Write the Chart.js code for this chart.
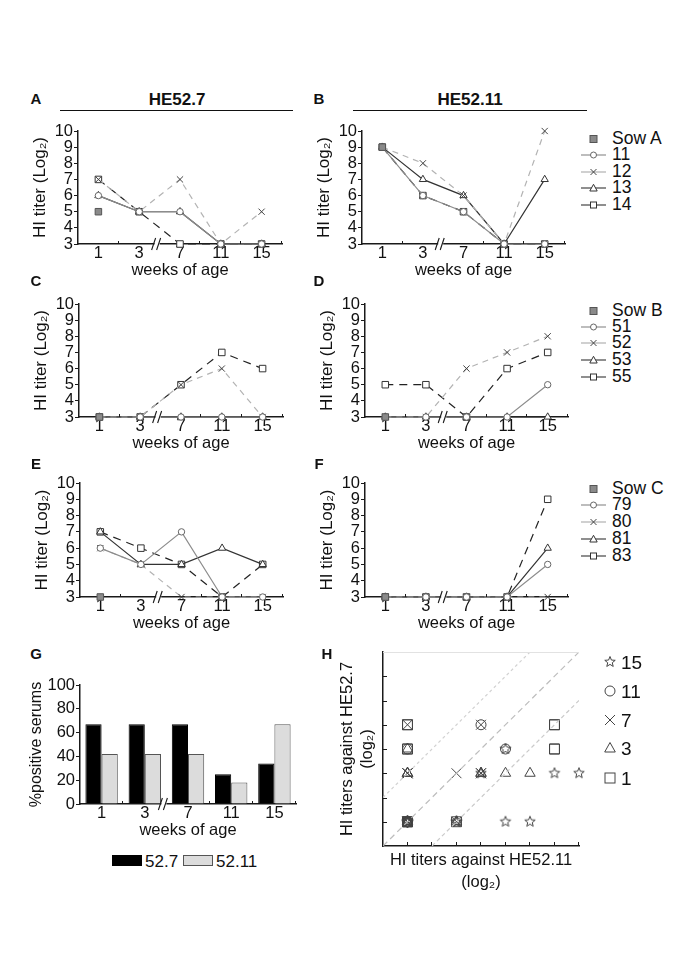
<!DOCTYPE html>
<html>
<head>
<meta charset="utf-8">
<script src="https://cdn.jsdelivr.net/npm/chart.js@4.4.1/dist/chart.umd.min.js"></script>
<style>
body { margin: 0; background: #fff; width: 685px; height: 969px; position: relative; overflow: hidden;
       font-family: "Liberation Sans", Arial, Helvetica, sans-serif; color: #111; }
canvas { position: absolute; }
.t { position: absolute; white-space: nowrap; line-height: 1; }
svg { position: absolute; overflow: visible; }
</style>
</head>
<body>
<script>
// weeks of age (x categories)
const weeks = ['1', '3', '7', '11', '15'];

// litter A: sow + piglets 11, 12, 13, 14 (HI titers, log2)
const sowA_52_7   = [5, null, null, null, null];
const pig11_52_7  = [6, 5, 5, 3, 3];
const pig12_52_7  = [7, 5, 7, 3, 5];
const pig13_52_7  = [6, 5, 5, 3, 3];
const pig14_52_7  = [7, 5, 3, 3, 3];
const sowA_52_11  = [9, null, null, null, null];
const pig11_52_11 = [9, 6, 5, 3, 3];
const pig12_52_11 = [9, 8, 6, 3, 10];
const pig13_52_11 = [9, 7, 6, 3, 7];
const pig14_52_11 = [9, 6, 5, 3, 3];

// litter B: sow + piglets 51, 52, 53, 55
const sowB_52_7   = [3, null, null, null, null];
const pig51_52_7  = [3, 3, 3, 3, 3];
const pig52_52_7  = [3, 3, 5, 6, 3];
const pig53_52_7  = [3, 3, 3, 3, 3];
const pig55_52_7  = [3, 3, 5, 7, 6];
const sowB_52_11  = [3, null, null, null, null];
const pig51_52_11 = [3, 3, 3, 3, 5];
const pig52_52_11 = [3, 3, 6, 7, 8];
const pig53_52_11 = [3, 3, 3, 3, 3];
const pig55_52_11 = [5, 5, 3, 6, 7];

// litter C: sow + piglets 79, 80, 81, 83
const sowC_52_7   = [3, null, null, null, null];
const pig79_52_7  = [6, 5, 7, 3, 3];
const pig80_52_7  = [6, 5, 3, 3, 3];
const pig81_52_7  = [7, 5, 5, 6, 5];
const pig83_52_7  = [7, 6, 5, 3, 5];
const sowC_52_11  = [3, null, null, null, null];
const pig79_52_11 = [3, 3, 3, 3, 5];
const pig80_52_11 = [3, 3, 3, 3, 3];
const pig81_52_11 = [3, 3, 3, 3, 6];
const pig83_52_11 = [3, 3, 3, 3, 9];

// panel G: % positive serums
const pos52_7  = [67, 67, 67, 25, 34];
const pos52_11 = [42, 42, 42, 18, 67];

// panel H: reference diagonals
const diagUpper = [{x: 2, y: 4}, {x: 8, y: 10}];
const diagMid   = [{x: 2, y: 2}, {x: 10, y: 10}];
const diagLower = [{x: 4, y: 2}, {x: 10, y: 8}];
const hWeeks = ['15', '11', '7', '3', '1'];

Chart.defaults.font.family = '"Liberation Sans", Arial, Helvetica, sans-serif';
Chart.defaults.color = '#111';
Chart.defaults.animation = false;

const INK = '#1a1a1a';

// marker / line look for sow and the four piglets
const roleStyles = [
  {showLine: false, pointStyle: 'rect', pointRadius: 4.6, pointBackgroundColor: '#8a8a8a', pointBorderColor: '#555', borderColor: '#555'},
  {borderColor: '#8c8c8c', borderWidth: 1.2, pointStyle: 'circle', pointRadius: 3.2, pointBackgroundColor: '#fff', pointBorderColor: '#666'},
  {borderColor: '#b3b3b3', borderWidth: 1.2, borderDash: [6, 5], pointStyle: 'crossRot', pointRadius: 4.4, pointBorderColor: '#444'},
  {borderColor: '#333', borderWidth: 1.2, pointStyle: 'triangle', pointRadius: 4.2, pointBackgroundColor: '#fff', pointBorderColor: '#333'},
  {borderColor: '#222', borderWidth: 1.2, borderDash: [8, 6], pointStyle: 'rect', pointRadius: 4.6, pointBackgroundColor: '#fff', pointBorderColor: '#333'}
];

function makeCanvas(box) {
  const c = document.createElement('canvas');
  c.width = box.w; c.height = box.h;
  c.style.left = box.x + 'px'; c.style.top = box.y + 'px';
  c.style.width = box.w + 'px'; c.style.height = box.h + 'px';
  document.body.appendChild(c);
  return c;
}

function seg(ctx, x1, y1, x2, y2) {
  ctx.beginPath(); ctx.moveTo(x1, y1); ctx.lineTo(x2, y2); ctx.stroke();
}

// small inward ticks between categories + the "//" axis break
const marks = {
  id: 'marks',
  afterDraw(chart, args, opts) {
    const ctx = chart.ctx, a = chart.chartArea;
    const xs = chart.scales.x, ys = chart.scales.y;
    ctx.save();
    ctx.strokeStyle = INK; ctx.lineWidth = 1;
    if (opts.cat) {
      for (let i = 1; i <= weeks.length; i++) {
        if (i === 2) continue;
        const px = Math.round(xs.getPixelForValue(i - 0.5)) - 0.5;
        seg(ctx, px, a.bottom, px, a.bottom - 3);
      }
      const bx = xs.getPixelForValue(1.5) - 2;
      const by = a.bottom;
      ctx.fillStyle = '#fff';
      ctx.fillRect(bx - 3, by - 2, 5, 4);
      ctx.lineWidth = 1.1;
      seg(ctx, bx - 6, by + 6, bx - 2, by - 6);
      seg(ctx, bx - 1, by + 6, bx + 3, by - 6);
    }
    if (opts.grid) {
      ctx.strokeStyle = '#e2e2e2';
      seg(ctx, a.left, a.top + 0.5, a.right, a.top + 0.5);
      ctx.strokeStyle = INK;
      xs.ticks.forEach(t => {
        if (t.value <= xs.min) return;
        const px = Math.round(xs.getPixelForValue(t.value)) - 0.5;
        seg(ctx, px, a.bottom, px, a.bottom - 4);
      });
      ys.ticks.forEach(t => {
        if (t.value <= ys.min || t.value >= ys.max) return;
        const py = Math.round(ys.getPixelForValue(t.value)) + 0.5;
        seg(ctx, a.left, py, a.left + 4, py);
      });
    }
    ctx.restore();
  }
};

function linePanel(area, series) {
  const [l, t, r, b] = area;
  const box = {x: l - 58, y: t - 15, w: r - l + 66, h: b - t + 51};
  new Chart(makeCanvas(box), {
    type: 'line',
    data: {
      labels: weeks,
      datasets: series.map((d, i) => Object.assign({data: d, clip: false, fill: false, tension: 0, pointBorderWidth: 1}, roleStyles[i]))
    },
    options: {
      responsive: false,
      layout: {padding: {left: 0, top: 15, right: 8, bottom: 0}},
      plugins: {legend: {display: false}, tooltip: {enabled: false}, marks: {cat: true}},
      scales: {
        x: {
          offset: true,
          grid: {display: false, drawTicks: false},
          border: {color: INK, width: 1.5},
          ticks: {padding: 0, font: {size: 16.5}, maxRotation: 0, autoSkip: false},
          title: {display: true, text: 'weeks of age', font: {size: 16.5}, padding: 0},
          afterFit: s => { s.height = 36; }
        },
        y: {
          min: 3, max: 10,
          ticks: {stepSize: 1, padding: 1, font: {size: 16.5}, autoSkip: false},
          grid: {drawOnChartArea: false, tickLength: 4, color: INK},
          border: {color: INK, width: 1.5},
          title: {display: true, text: 'HI titer (Log₂)', font: {size: 17}, padding: {top: 10, bottom: 0}},
          afterFit: s => { s.width = 58; }
        }
      }
    },
    plugins: [marks]
  });
}

linePanel([78, 131, 282, 244], [sowA_52_7, pig11_52_7, pig12_52_7, pig13_52_7, pig14_52_7]);
linePanel([362, 131, 565, 244], [sowA_52_11, pig11_52_11, pig12_52_11, pig13_52_11, pig14_52_11]);
linePanel([79, 304, 283, 417], [sowB_52_7, pig51_52_7, pig52_52_7, pig53_52_7, pig55_52_7]);
linePanel([365, 304, 568, 417], [sowB_52_11, pig51_52_11, pig52_52_11, pig53_52_11, pig55_52_11]);
linePanel([80, 483, 283, 597], [sowC_52_7, pig79_52_7, pig80_52_7, pig81_52_7, pig83_52_7]);
linePanel([365, 483, 568, 597], [sowC_52_11, pig79_52_11, pig80_52_11, pig81_52_11, pig83_52_11]);

// panel G
new Chart(makeCanvas({x: 20, y: 670, w: 284, h: 170}), {
  type: 'bar',
  data: {
    labels: weeks,
    datasets: [
      {label: '52.7', data: pos52_7, backgroundColor: '#000', borderColor: '#000', borderWidth: 1},
      {label: '52.11', data: pos52_11, backgroundColor: '#dcdcdc', borderColor: '#555', borderWidth: 1}
    ]
  },
  options: {
    responsive: false,
    categoryPercentage: 0.75, barPercentage: 1,
    layout: {padding: {left: 0, top: 15, right: 8, bottom: 0}},
    plugins: {legend: {display: false}, tooltip: {enabled: false}, marks: {cat: true}},
    scales: {
      x: {
        grid: {display: false, drawTicks: false},
        border: {color: INK, width: 1.5},
        ticks: {padding: 0, font: {size: 16.5}, maxRotation: 0, autoSkip: false},
        title: {display: true, text: 'weeks of age', font: {size: 16.5}, padding: 0},
        afterFit: s => { s.height = 36; }
      },
      y: {
        min: 0, max: 100,
        ticks: {stepSize: 20, padding: 1, font: {size: 16.5}, autoSkip: false},
        grid: {drawOnChartArea: false, tickLength: 4, color: INK},
        border: {color: INK, width: 1.5},
        title: {display: true, text: '%positive serums', font: {size: 16}, padding: {top: 7, bottom: 0}},
        afterFit: s => { s.width = 60; }
      }
    }
  },
  plugins: [marks]
});

// panel H: each piglet at each week, HE52.11 titer against HE52.7 titer
const pigs52_7  = [pig11_52_7, pig12_52_7, pig13_52_7, pig14_52_7, pig51_52_7, pig52_52_7, pig53_52_7, pig55_52_7, pig79_52_7, pig80_52_7, pig81_52_7, pig83_52_7];
const pigs52_11 = [pig11_52_11, pig12_52_11, pig13_52_11, pig14_52_11, pig51_52_11, pig52_52_11, pig53_52_11, pig55_52_11, pig79_52_11, pig80_52_11, pig81_52_11, pig83_52_11];
function weekPoints(label) {
  const wi = weeks.indexOf(label);
  return pigs52_7.map((v, k) => ({x: pigs52_11[k][wi], y: v[wi]}));
}

function starCanvas(R, r, color) {
  const s = Math.ceil(R * 2 + 3);
  const c = document.createElement('canvas');
  c.width = s; c.height = s;
  const g = c.getContext('2d');
  g.strokeStyle = color; g.lineWidth = 1;
  g.beginPath();
  for (let i = 0; i < 10; i++) {
    const ang = -Math.PI / 2 + i * Math.PI / 5;
    const rad = i % 2 ? r : R;
    g.lineTo(s / 2 + rad * Math.cos(ang), s / 2 + rad * Math.sin(ang));
  }
  g.closePath(); g.stroke();
  return c;
}

const hStyles = {
  '15': {pointStyle: starCanvas(5.5, 2.4, '#444'), pointRadius: 5},
  '11': {pointStyle: 'circle', pointRadius: 5},
  '7':  {pointStyle: 'crossRot', pointRadius: 7},
  '3':  {pointStyle: 'triangle', pointRadius: 6},
  '1':  {pointStyle: 'rect', pointRadius: 7}
};

const hDatasets = [
  {data: diagUpper, showLine: true, borderColor: '#d2d2d2', borderWidth: 1.2, borderDash: [3, 3], pointRadius: 0},
  {data: diagMid, showLine: true, borderColor: '#bdbdbd', borderWidth: 1.2, borderDash: [6, 4], pointRadius: 0},
  {data: diagLower, showLine: true, borderColor: '#cacaca', borderWidth: 1.2, borderDash: [4, 3], pointRadius: 0}
].concat(hWeeks.map(w => Object.assign({
  label: w, data: weekPoints(w), clip: false,
  pointBorderColor: '#444', pointBackgroundColor: 'rgba(0,0,0,0)', pointBorderWidth: 1
}, hStyles[w])));

new Chart(makeCanvas({x: 330, y: 640, w: 270, h: 253}), {
  type: 'scatter',
  data: {datasets: hDatasets},
  options: {
    responsive: false,
    layout: {padding: {left: 0, top: 12, right: 21, bottom: 0}},
    plugins: {legend: {display: false}, tooltip: {enabled: false}, marks: {grid: true}},
    scales: {
      x: {
        min: 2, max: 10,
        ticks: {stepSize: 1, display: false},
        grid: {display: false, drawTicks: false},
        border: {color: INK, width: 1.5},
        title: {display: true, text: ['HI titers against HE52.11', '(log₂)'], font: {size: 16.5, lineHeight: 1.3}, padding: 0},
        afterFit: s => { s.height = 47; }
      },
      y: {
        min: 2, max: 10,
        ticks: {stepSize: 1, display: false},
        grid: {display: false, drawTicks: false},
        border: {color: INK, width: 1.5},
        title: {display: true, text: ['HI titers against HE52.7', '(log₂)'], font: {size: 16.5, lineHeight: 1.22}, padding: {top: 7, bottom: 0}},
        afterFit: s => { s.width = 53; }
      }
    }
  },
  plugins: [marks]
});

// ---- text and legends ----
function text(str, x, y, css, left) {
  const d = document.createElement('div');
  d.className = 't';
  d.textContent = str;
  d.style.left = x + 'px';
  d.style.top = y + 'px';
  d.style.transform = left ? 'translate(0,-50%)' : 'translate(-50%,-50%)';
  d.style.cssText += css || '';
  document.body.appendChild(d);
}
function svg(x, y, w, h, inner) {
  const s = `<svg style="left:${x}px;top:${y}px" width="${w}" height="${h}" viewBox="0 0 ${w} ${h}">${inner}</svg>`;
  document.body.insertAdjacentHTML('beforeend', s);
}

const letterCss = 'font-weight:bold;font-size:15px;';
[['A', 36, 98], ['B', 319, 98], ['C', 36, 280], ['D', 319, 280],
 ['E', 36, 463], ['F', 319, 463], ['G', 36, 653], ['H', 327, 653]].forEach(p => text(p[0], p[1], p[2], letterCss));

text('HE52.7', 177, 99, 'font-weight:bold;font-size:17px;');
text('HE52.11', 470, 99, 'font-weight:bold;font-size:17px;');
document.body.insertAdjacentHTML('beforeend',
  '<div style="position:absolute;left:60px;top:110px;width:233px;border-top:1.5px solid #111"></div>' +
  '<div style="position:absolute;left:353px;top:110px;width:234px;border-top:1.5px solid #111"></div>');

// litter legends next to B, D, F
const legendNames = [
  ['Sow A', '11', '12', '13', '14'],
  ['Sow B', '51', '52', '53', '55'],
  ['Sow C', '79', '80', '81', '83']
];
const legendRows = [[139, 155, 172, 188, 205], [311, 327, 343, 360, 377], [489, 505, 522, 539, 556]];
const symLines = ['', '#888', '#aaa', '#333', '#333'];
function litterSymbol(role) {
  const ln = role ? `<line x1="0" y1="7" x2="25" y2="7" stroke="${symLines[role]}" stroke-width="1.1"/>` : '';
  if (role === 0) return `<rect x="9" y="3.5" width="7" height="7" fill="#8a8a8a" stroke="#555"/>`;
  if (role === 1) return ln + `<circle cx="12.5" cy="7" r="3" fill="#fff" stroke="#666"/>`;
  if (role === 2) return ln +
    `<path d="M9.5 4 L15.5 10 M15.5 4 L9.5 10" stroke="#444" stroke-width="1"/>`;
  if (role === 3) return ln + `<polygon points="12.5,3.3 16.2,10 8.8,10" fill="#fff" stroke="#333"/>`;
  return ln + `<rect x="9.5" y="4" width="6" height="6" fill="#fff" stroke="#333"/>`;
}
legendNames.forEach((names, g) => {
  names.forEach((n, i) => {
    const y = legendRows[g][i];
    svg(581, y - 7, 26, 14, litterSymbol(i));
    text(n, 612, y, 'font-size:17.5px;', true);
  });
});

// G legend
document.body.insertAdjacentHTML('beforeend',
  '<div style="position:absolute;left:112px;top:855px;width:30px;height:11px;background:#000;box-sizing:border-box"></div>' +
  '<div style="position:absolute;left:183px;top:855px;width:30px;height:11px;background:#dcdcdc;border:1px solid #555;box-sizing:border-box"></div>');
text('52.7', 145, 861, 'font-size:17px;', true);
text('52.11', 216, 861, 'font-size:17px;', true);

// H legend
const hRows = [662, 691, 720, 748, 778];
function starPath(cx, cy, R, r) {
  let d = '';
  for (let i = 0; i < 10; i++) {
    const ang = -Math.PI / 2 + i * Math.PI / 5;
    const rad = i % 2 ? r : R;
    d += (i ? 'L' : 'M') + (cx + rad * Math.cos(ang)).toFixed(2) + ' ' + (cy + rad * Math.sin(ang)).toFixed(2);
  }
  return `<path d="${d}Z" fill="none" stroke="#444"/>`;
}
const hSym = {
  '15': starPath(8, 8, 5.5, 2.4),
  '11': '<circle cx="8" cy="8" r="5" fill="none" stroke="#444"/>',
  '7':  '<path d="M3 3 L13 13 M13 3 L3 13" stroke="#444"/>',
  '3':  '<polygon points="8,2.5 13.3,12 2.7,12" fill="none" stroke="#444"/>',
  '1':  '<rect x="3" y="3" width="10" height="10" fill="none" stroke="#444"/>'
};
hWeeks.forEach((w, i) => {
  svg(602, hRows[i] - 8, 16, 16, hSym[w]);
  text(w, 621, hRows[i], 'font-size:19px;', true);
});
</script>
</body>
</html>
